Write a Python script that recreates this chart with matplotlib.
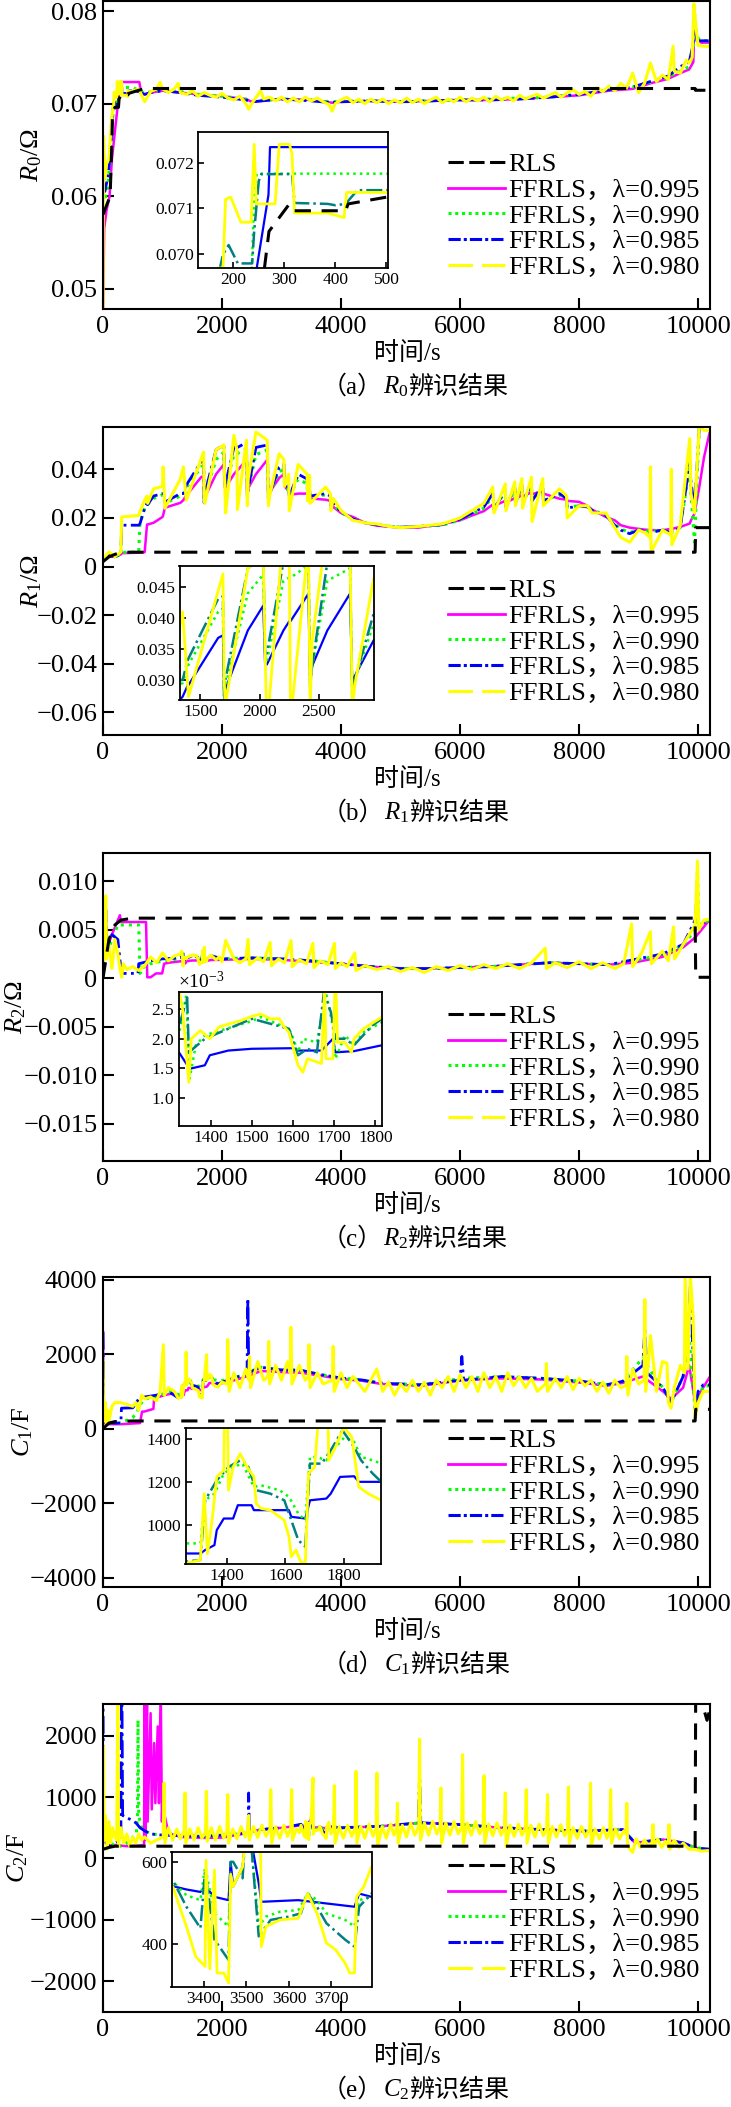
import numpy as np
import matplotlib
matplotlib.use('Agg')
import matplotlib.pyplot as plt
from matplotlib.lines import Line2D

plt.rcParams['font.family'] = ['Liberation Serif', 'Noto Sans CJK SC']
plt.rcParams['mathtext.fontset'] = 'custom'
plt.rcParams['mathtext.rm'] = 'Liberation Serif'
plt.rcParams['mathtext.it'] = 'Liberation Serif:italic'
plt.rcParams['mathtext.bf'] = 'Liberation Serif:bold'

W, H = 731, 2107

# ---------------- (a) R0 ----------------
a_rls_t = [0, 60, 120, 150, 160, 200, 260, 270, 310, 320, 420, 425, 700, 9950, 9955, 10190]
a_rls_v = [0.0580, 0.0590, 0.0600, 0.0660, 0.0690, 0.0696, 0.0696, 0.0705, 0.0711, 0.07095,
           0.07095, 0.0711, 0.07164, 0.07164, 0.07145, 0.07145]
a_995_t = [0, 20, 60, 110, 150, 200, 246, 269, 272, 610, 640, 700, 800, 1000, 1300, 1600, 2000,
           2400, 2500, 3000, 3500, 3850, 4000, 4500, 5000, 5500, 6000, 6500, 7000, 7500, 8000,
           8500, 8900, 9200, 9500, 9700, 9850, 9920, 9940, 9980, 10050, 10190]
a_995_v = [0.0470, 0.0565, 0.0585, 0.0600, 0.0640, 0.0670, 0.0697, 0.0713, 0.07234, 0.07234,
           0.0712, 0.0710, 0.0712, 0.0714, 0.0712, 0.0710, 0.0708, 0.0705, 0.0702, 0.0705,
           0.0704, 0.0701, 0.0702, 0.0703, 0.0702, 0.0703, 0.0704, 0.0704, 0.0705, 0.0707,
           0.0709, 0.0714, 0.0716, 0.0722, 0.0727, 0.0733, 0.0737, 0.0745, 0.0795, 0.0770,
           0.0766, 0.0766]
a_990_t = [0, 30, 80, 130, 170, 200, 236, 241, 246, 500, 600, 700, 800, 1000, 1300, 1600, 2000,
           2400, 2500, 3000, 3500, 3850, 4000, 4500, 5000, 5500, 6000, 6500, 7000, 7500, 8000,
           8500, 8900, 9200, 9500, 9700, 9850, 9920, 9940, 9980, 10050, 10190]
a_990_v = [0.0600, 0.0595, 0.0610, 0.0650, 0.0690, 0.0696, 0.0696, 0.0712, 0.07176, 0.07176,
           0.0714, 0.0711, 0.0713, 0.0715, 0.0713, 0.0710, 0.0708, 0.0705, 0.0703, 0.0705,
           0.0704, 0.0702, 0.0703, 0.0703, 0.0702, 0.0703, 0.0704, 0.0705, 0.0706, 0.0707,
           0.0710, 0.0715, 0.0718, 0.0723, 0.0729, 0.0735, 0.0740, 0.0760, 0.0797, 0.0772,
           0.0768, 0.0768]
a_985_t = [0, 30, 80, 130, 160, 180, 191, 200, 209, 237, 241, 250, 255, 315, 320, 385, 400, 420,
           443, 500, 600, 700, 800, 1000, 1300, 1600, 2000, 2400, 2500, 3000, 3500, 3850, 4000,
           4500, 5000, 5500, 6000, 6500, 7000, 7500, 8000, 8500, 8900, 9200, 9500, 9700, 9850,
           9920, 9940, 9980, 10050, 10190]
a_985_v = [0.0645, 0.0605, 0.0620, 0.0650, 0.0690, 0.0700, 0.0702, 0.0700, 0.0698, 0.0698,
           0.0705, 0.0716, 0.07175, 0.07175, 0.07112, 0.0711, 0.07107, 0.0711, 0.0714, 0.0714,
           0.0713, 0.0710, 0.0712, 0.0714, 0.0712, 0.0709, 0.0707, 0.0704, 0.0702, 0.0705,
           0.0703, 0.0701, 0.0702, 0.0703, 0.0702, 0.0703, 0.0704, 0.0704, 0.0705, 0.0707,
           0.0710, 0.0715, 0.0718, 0.0724, 0.0730, 0.0740, 0.0745, 0.0765, 0.0790, 0.0768,
           0.0768, 0.0768]
a_980_t = [0, 10, 30, 60, 100, 140, 170, 180, 185, 195,
           215, 235, 241, 245, 250, 282, 290, 310, 315, 320,
           385, 417, 422, 500, 600, 700, 800, 900, 960, 1000,
           1100, 1200, 1264, 1300, 1400, 1500, 1600, 1700, 1800, 1900,
           2000, 2100, 2200, 2300, 2400, 2450, 2500, 2650, 2700, 2800,
           2900, 3000, 3100, 3200, 3300, 3400, 3500, 3600, 3700, 3800,
           3850, 3900, 4000, 4100, 4200, 4300, 4400, 4500, 4600, 4700,
           4800, 4900, 5000, 5100, 5200, 5300, 5400, 5500, 5600, 5700,
           5800, 5900, 6000, 6100, 6200, 6300, 6400, 6500, 6600, 6700,
           6800, 6900, 7000, 7100, 7200, 7300, 7400, 7500, 7600, 7700,
           7800, 7900, 8000, 8100, 8200, 8300, 8400, 8500, 8600, 8700,
           8800, 8900, 9000, 9100, 9200, 9300, 9400, 9500, 9580, 9600,
           9700, 9800, 9850, 9900, 9930, 9960, 10000, 10100, 10190]
a_980_v = [0.0480, 0.0665, 0.0620, 0.0635, 0.0640, 0.0680, 0.0697, 0.0697, 0.0712, 0.07125,
           0.0707, 0.0707, 0.0724, 0.0711, 0.0711, 0.0711, 0.0724, 0.0724, 0.0722, 0.0709,
           0.0709, 0.0708, 0.07135, 0.07135, 0.0716, 0.0702, 0.0713, 0.0716, 0.0723, 0.0716,
           0.0712, 0.0716, 0.0722, 0.0712, 0.0710, 0.0714, 0.0708, 0.0712, 0.0709, 0.0707,
           0.0711, 0.0706, 0.0704, 0.0708, 0.0700, 0.0694, 0.0700, 0.0714, 0.0705, 0.0707,
           0.0703, 0.0707, 0.0702, 0.0706, 0.0702, 0.0707, 0.0703, 0.0706, 0.0702, 0.0699,
           0.0692, 0.0700, 0.0704, 0.0707, 0.0701, 0.0705, 0.0700, 0.0705, 0.0701, 0.0705,
           0.0700, 0.0704, 0.0701, 0.0706, 0.0701, 0.0705, 0.0700, 0.0704, 0.0707, 0.0701,
           0.0705, 0.0702, 0.0707, 0.0702, 0.0706, 0.0703, 0.0707, 0.0702, 0.0708, 0.0704,
           0.0707, 0.0703, 0.0709, 0.0705, 0.0708, 0.0710, 0.0706, 0.0709, 0.0712, 0.0707,
           0.0712, 0.0715, 0.0710, 0.0713, 0.0708, 0.0717, 0.0713, 0.0719, 0.0714, 0.0722,
           0.0717, 0.0733, 0.0712, 0.0722, 0.0744, 0.0724, 0.0731, 0.0726, 0.0762, 0.0735,
           0.0733, 0.0747, 0.0744, 0.0750, 0.0808, 0.0785, 0.0763, 0.0762, 0.0762]

# ---------------- (b) R1 ----------------
b_t = [0, 100, 200, 300, 314, 600, 620, 700, 740, 750,
       850, 1000, 1010, 1040, 1300, 1350, 1390, 1400, 1650, 1690,
       1700, 1710, 1900, 2030, 2045, 2060, 2200, 2250, 2260, 2410,
       2425, 2440, 2570, 2760, 2780, 2800, 2960, 3040, 3050, 3120,
       3130, 3280, 3430, 3440, 3470, 3480, 3740, 3820, 3830, 3870,
       4000, 4200, 4400, 4600, 4800, 5000, 5300, 5700, 6000, 6200,
       6400, 6550, 6570, 6760, 6770, 6920, 6930, 7040, 7050, 7200,
       7210, 7390, 7400, 7670, 7790, 7800, 8000, 8140, 8220, 8450,
       8600, 8700, 8850, 9000, 9100, 9190, 9200, 9210, 9400, 9540,
       9550, 9560, 9700, 9860, 9880, 9940, 10020, 10100, 10190]
b_995 = [0.003, 0.004, 0.004, 0.005, 0.0055, 0.0057, 0.0058, 0.0059, 0.0173, 0.0173,
         0.0180, 0.0204, 0.0210, 0.0242, 0.0262, 0.0273, 0.0290, 0.0292, 0.0368, 0.0372,
         0.0280, 0.0285, 0.0380, 0.0420, 0.0327, 0.0325, 0.0380, 0.0395, 0.0395, 0.0439,
         0.0289, 0.0322, 0.0380, 0.0439, 0.0295, 0.0306, 0.0364, 0.0380, 0.0330, 0.0310,
         0.0295, 0.0300, 0.0300, 0.0287, 0.0290, 0.0280, 0.0275, 0.0270, 0.0245, 0.0245,
         0.0220, 0.0204, 0.0180, 0.0168, 0.0164, 0.0160, 0.0160, 0.0175, 0.0190, 0.0210,
         0.0228, 0.0255, 0.0250, 0.0270, 0.0262, 0.0282, 0.0275, 0.0295, 0.0288, 0.0305,
         0.0298, 0.0310, 0.0300, 0.0279, 0.0275, 0.0270, 0.0266, 0.0250, 0.0234, 0.0204,
         0.0190, 0.0170, 0.0160, 0.0155, 0.0152, 0.0150, 0.0150, 0.0150, 0.0149, 0.0155,
         0.0155, 0.0155, 0.0163, 0.0177, 0.0190, 0.0218, 0.0327, 0.0450, 0.0547]
b_990 = [0.003, 0.005, 0.004, 0.005, 0.0058, 0.0060, 0.0179, 0.0240, 0.0255, 0.0255,
         0.0280, 0.0295, 0.0295, 0.0260, 0.0290, 0.0295, 0.0320, 0.0325, 0.0410, 0.0415,
         0.0270, 0.0290, 0.0440, 0.0470, 0.0340, 0.0330, 0.0460, 0.0465, 0.0465, 0.0485,
         0.0300, 0.0320, 0.0460, 0.0480, 0.0280, 0.0300, 0.0390, 0.0400, 0.0340, 0.0310,
         0.0290, 0.0360, 0.0340, 0.0290, 0.0310, 0.0285, 0.0295, 0.0285, 0.0250, 0.0255,
         0.0222, 0.0195, 0.0180, 0.0172, 0.0166, 0.0162, 0.0164, 0.0170, 0.0192, 0.0215,
         0.0240, 0.0290, 0.0240, 0.0305, 0.0250, 0.0315, 0.0262, 0.0325, 0.0265, 0.0330,
         0.0272, 0.0325, 0.0272, 0.0295, 0.0280, 0.0245, 0.0250, 0.0245, 0.0232, 0.0212,
         0.0175, 0.0155, 0.0140, 0.0150, 0.0148, 0.0145, 0.0145, 0.0145, 0.0150, 0.0145,
         0.0145, 0.0145, 0.0160, 0.0410, 0.0300, 0.0100, 0.0580, 0.0580, 0.0580]
b_985 = [0.003, 0.005, 0.004, 0.005, 0.0170, 0.0170, 0.0175, 0.0240, 0.0260, 0.0255,
         0.0290, 0.0300, 0.0300, 0.0265, 0.0300, 0.0300, 0.0330, 0.0335, 0.0431, 0.0435,
         0.0262, 0.0300, 0.0480, 0.0500, 0.0343, 0.0343, 0.0490, 0.0490, 0.0490, 0.0510,
         0.0289, 0.0320, 0.0490, 0.0500, 0.0265, 0.0300, 0.0407, 0.0420, 0.0350, 0.0320,
         0.0290, 0.0380, 0.0360, 0.0290, 0.0320, 0.0290, 0.0300, 0.0290, 0.0250, 0.0260,
         0.0225, 0.0195, 0.0180, 0.0172, 0.0165, 0.0162, 0.0165, 0.0172, 0.0195, 0.0220,
         0.0245, 0.0300, 0.0235, 0.0315, 0.0245, 0.0325, 0.0260, 0.0335, 0.0262, 0.0340,
         0.0270, 0.0335, 0.0270, 0.0300, 0.0280, 0.0240, 0.0250, 0.0245, 0.0230, 0.0210,
         0.0170, 0.0150, 0.0135, 0.0150, 0.0145, 0.0140, 0.0140, 0.0140, 0.0150, 0.0140,
         0.0140, 0.0140, 0.0160, 0.0430, 0.0350, 0.0240, 0.0570, 0.0580, 0.0580]
b_980 = [0.003, 0.006, 0.004, 0.006, 0.0204, 0.0210, 0.0225, 0.0273, 0.0290, 0.0260,
         0.0320, 0.0330, 0.0410, 0.0240, 0.0360, 0.0410, 0.0300, 0.0273, 0.0444, 0.0471,
         0.0300, 0.0260, 0.0480, 0.0500, 0.0350, 0.0220, 0.0540, 0.0480, 0.0234, 0.0520,
         0.0250, 0.0360, 0.0553, 0.0520, 0.0250, 0.0290, 0.0464, 0.0440, 0.0330, 0.0380,
         0.0230, 0.0420, 0.0380, 0.0270, 0.0375, 0.0260, 0.0327, 0.0300, 0.0230, 0.0280,
         0.0230, 0.0190, 0.0180, 0.0175, 0.0165, 0.0160, 0.0165, 0.0175, 0.0200, 0.0230,
         0.0260, 0.0327, 0.0220, 0.0340, 0.0230, 0.0348, 0.0250, 0.0362, 0.0240, 0.0368,
         0.0185, 0.0362, 0.0250, 0.0320, 0.0290, 0.0200, 0.0250, 0.0250, 0.0220, 0.0220,
         0.0160, 0.0120, 0.0100, 0.0150, 0.0140, 0.0120, 0.0410, 0.0060, 0.0150, 0.0130,
         0.0400, 0.0090, 0.0170, 0.0526, 0.0300, 0.0220, 0.0580, 0.0560, 0.0560]
b_rls_t = [0, 100, 200, 300, 350, 9950, 9960, 10190]
b_rls_v = [0.002, 0.004, 0.005, 0.0058, 0.0059, 0.0059, 0.0160, 0.0160]

# ---------------- (c) R2 (values in mOhm) ----------------
c_995_t = [0, 47, 60, 150, 284, 300, 338, 723, 744, 800, 892, 994, 1027, 1100, 1300, 1324, 1349,
           1386, 1398, 1443, 1500, 1601, 1612, 1669, 1697, 1703, 1748, 1816, 2000, 2500, 3000,
           3500, 4000, 4500, 5000, 5500, 6000, 6500, 7000, 7500, 8000, 8500, 8900, 9400, 9750,
           9950, 10190]
c_995_v = [0.1, 7.5, 3.0, 4.5, 6.5, 5.8, 5.8, 5.8, 0.1, 0.1, 0.5, 0.5, 1.5, 1.6, 1.75, 1.76, 1.49,
           1.55, 1.72, 1.80, 1.83, 1.84, 1.80, 1.80, 2.0, 1.77, 1.79, 1.89, 1.9, 2.0, 1.9, 1.7,
           1.5, 1.2, 1.0, 1.0, 1.1, 1.2, 1.4, 1.6, 1.5, 1.4, 1.6, 2.2, 3.2, 4.2, 6.0]
c_990_t = [0, 47, 60, 150, 250, 338, 600, 622, 640, 800, 1000, 1300, 1324, 1341, 1349, 1364, 1386,
           1500, 1522, 1590, 1601, 1612, 1624, 1658, 1680, 1697, 1703, 1726, 1748, 1771, 1816,
           2000, 2500, 3000, 3500, 4000, 4500, 5000, 5500, 6000, 6500, 7000, 7500, 8000, 8500,
           8900, 9400, 9750, 9950, 9990, 10010, 10190]
c_990_v = [0.5, 6.0, 2.5, 4.0, 5.5, 5.5, 5.5, 0.5, 1.0, 1.5, 1.8, 2.0, 2.11, 2.74, 1.32, 1.89, 2.06,
           2.3, 2.37, 2.17, 2.0, 1.77, 2.0, 1.94, 2.79, 2.2, 1.66, 2.06, 1.89, 2.11, 2.28, 2.0,
           2.1, 2.0, 1.8, 1.5, 1.2, 1.0, 1.0, 1.1, 1.2, 1.4, 1.6, 1.5, 1.4, 1.8, 2.4, 3.4, 5.0,
           11.0, 5.5, 6.0]
c_985_t = [0, 47, 60, 150, 250, 300, 338, 588, 600, 800, 1000, 1300, 1324, 1343, 1347, 1386, 1500,
           1590, 1612, 1635, 1658, 1675, 1692, 1703, 1726, 1748, 1793, 1816, 2000, 2500, 3000,
           3500, 4000, 4500, 5000, 5500, 6000, 6500, 7000, 7500, 8000, 8500, 8900, 9400, 9750,
           9950, 9980, 10010, 10190]
c_985_v = [0.3, 7.0, 3.0, 4.5, 4.0, 1.0, 0.5, 0.5, 1.5, 1.8, 2.0, 2.1, 2.23, 2.7, 1.77, 2.0, 2.34,
           2.17, 1.72, 1.83, 1.77, 2.79, 2.45, 2.0, 2.0, 1.89, 2.23, 2.34, 2.0, 2.1, 2.0, 1.8,
           1.5, 1.2, 1.0, 1.0, 1.1, 1.2, 1.4, 1.6, 1.5, 1.4, 1.9, 2.5, 3.5, 6.0, 8.0, 5.5, 6.0]
c_980_t = [0, 20, 47, 60, 100, 150, 200, 250, 284, 314,
           340, 400, 500, 600, 700, 800, 900, 1000, 1100, 1200,
           1300, 1324, 1332, 1347, 1353, 1375, 1398, 1420, 1443, 1470,
           1500, 1522, 1545, 1567, 1579, 1590, 1612, 1624, 1635, 1669,
           1677, 1680, 1697, 1703, 1708, 1726, 1742, 1748, 1771, 1816,
           1900, 1950, 2000, 2062, 2200, 2300, 2400, 2438, 2460, 2600,
           2700, 2807, 2830, 2950, 3050, 3160, 3180, 3300, 3420, 3528,
           3545, 3650, 3780, 3889, 3905, 4000, 4100, 4233, 4250, 4400,
           4600, 4800, 5000, 5200, 5400, 5600, 5800, 6000, 6200, 6400,
           6600, 6800, 7000, 7200, 7432, 7450, 7600, 7800, 8000, 8200,
           8400, 8600, 8750, 8883, 8900, 9050, 9197, 9215, 9400, 9500,
           9589, 9605, 9750, 9850, 9950, 9990, 10010, 10100, 10190]
c_980_v = [0.5, 4.0, 8.5, 2.0, 3.5, 1.0, 4.0, 2.5, 1.0, 0.1,
           1.5, 0.9, 1.2, 0.8, 1.3, 2.2, 1.6, 2.6, 1.8, 2.3,
           2.5, 2.8, 2.5, 1.26, 2.0, 2.14, 2.0, 2.2, 2.25, 2.3,
           2.38, 2.42, 2.34, 2.34, 2.2, 2.11, 1.55, 1.43, 1.66, 1.58,
           2.9, 1.66, 1.66, 3.2, 1.94, 1.94, 1.77, 2.0, 2.17, 2.37,
           1.9, 2.2, 1.7, 3.9, 2.0, 1.6, 2.0, 4.0, 1.4, 2.1,
           1.7, 3.7, 1.3, 2.0, 1.6, 3.9, 1.2, 1.9, 1.5, 3.6,
           1.1, 1.8, 1.4, 3.6, 1.0, 1.6, 1.2, 2.6, 0.8, 1.3,
           0.9, 1.2, 0.7, 1.1, 0.6, 1.2, 0.8, 1.3, 0.9, 1.4,
           1.0, 1.5, 1.0, 1.6, 3.1, 1.0, 1.6, 1.1, 1.7, 1.0,
           1.6, 1.0, 1.5, 5.6, 1.2, 2.6, 4.8, 1.5, 2.8, 1.8,
           5.3, 2.0, 3.5, 4.5, 5.5, 12.1, 5.0, 6.0, 6.1]
c_rls_t = [0, 100, 200, 300, 500, 9950, 9960, 10190]
c_rls_v = [0.0, 4.0, 5.5, 6.0, 6.2, 6.2, 0.1, 0.1]

# ---------------- (d) C1 ----------------
d_995_t = [0, 5, 15, 100, 300, 622, 656, 690, 847, 860, 960, 1043, 1200, 1261, 1309, 1325, 1357,
           1365, 1389, 1421, 1437, 1484, 1492, 1516, 1612, 1620, 1668, 1684, 1740, 1755, 1787,
           1835, 1851, 1928, 2100, 2312, 2500, 2650, 2988, 3326, 3664, 4002, 4340, 4678, 5354,
           6030, 6706, 7382, 8058, 8464, 8734, 9072, 9410, 9545, 9748, 9850, 9950, 10085, 10200]
d_995_v = [2600, 1700, 150, 120, 120, 150, 458, 458, 530, 862, 862, 907, 950, 868, 868, 884, 907,
           977, 1031, 1031, 1093, 1093, 1070, 1070, 1070, 1039, 1031, 1116, 1124, 1147, 1225,
           1228, 1202, 1202, 1250, 1350, 1450, 1550, 1520, 1500, 1420, 1330, 1290, 1200, 1150,
           1300, 1350, 1320, 1230, 1150, 1230, 1400, 1000, 800, 1100, 1700, 700, 1100, 1400]
d_990_t = [0, 5, 15, 100, 300, 500, 580, 600, 700, 900, 1100, 1261, 1309, 1325, 1357, 1389, 1421,
           1453, 1492, 1516, 1580, 1612, 1644, 1668, 1684, 1708, 1740, 1771, 1803, 1835, 1859,
           1899, 1928, 2100, 2312, 2500, 2650, 2988, 3326, 3664, 4002, 4340, 4678, 5354, 6030,
           6706, 7382, 8058, 8464, 8734, 9072, 9300, 9410, 9545, 9748, 9850, 9880, 9950, 10085,
           10200]
d_990_v = [2000, 1200, 200, 150, 150, 300, 450, 600, 800, 850, 1000, 915, 915, 1116, 1147, 1240,
           1271, 1287, 1178, 1186, 1163, 1132, 1054, 1023, 1318, 1318, 1302, 1364, 1411, 1388,
           1318, 1302, 1287, 1300, 1420, 1550, 1650, 1580, 1560, 1450, 1360, 1310, 1220, 1180,
           1350, 1400, 1350, 1270, 1180, 1270, 1900, 1300, 1100, 700, 1400, 2500, 1800, 500,
           1150, 1150]
d_985_t = [0, 5, 15, 100, 300, 310, 500, 520, 600, 700, 900, 1100, 1261, 1309, 1325, 1365, 1405,
           1445, 1469, 1500, 1548, 1596, 1620, 1644, 1668, 1684, 1724, 1755, 1795, 1835, 1859,
           1899, 1928, 2100, 2312, 2420, 2434, 2450, 2650, 2988, 3326, 3664, 4002, 4340, 4678,
           5354, 6000, 6030, 6060, 6706, 7382, 8058, 8464, 8734, 9072, 9105, 9140, 9410, 9545,
           9748, 9830, 9870, 9950, 10000, 10085, 10200]
d_985_v = [2600, 1800, 200, 150, 150, 550, 560, 600, 800, 850, 900, 1000, 830, 838, 1116, 1209,
           1271, 1302, 1287, 1163, 1147, 1116, 1023, 930, 899, 1287, 1287, 1349, 1442, 1364, 1302,
           1240, 1202, 1300, 1420, 1450, 3493, 1500, 1650, 1580, 1570, 1450, 1360, 1310, 1220,
           1180, 1300, 1940, 1300, 1400, 1350, 1270, 1180, 1270, 1700, 2700, 1500, 1100, 700,
           1400, 2300, 3870, 500, 1000, 1176, 1176]
d_980_t = [0, 5, 20, 40, 60, 80, 100, 150, 200, 300,
           400, 500, 550, 600, 650, 700, 800, 900, 960, 1014,
           1030, 1100, 1200, 1261, 1309, 1322, 1333, 1349, 1365, 1389,
           1397, 1405, 1421, 1445, 1469, 1492, 1500, 1516, 1548, 1596,
           1612, 1620, 1636, 1652, 1668, 1679, 1700, 1740, 1748, 1771,
           1800, 1827, 1851, 1883, 1928, 2000, 2085, 2096, 2120, 2200, 2300,
           2400, 2450, 2461, 2480, 2600, 2700, 2772, 2785, 2800, 2900, 3000, 3100,
           3145, 3157, 3175, 3300, 3400, 3450, 3461, 3480, 3600, 3700, 3855, 3867, 3885,
           4000, 4100, 4200, 4300, 4400, 4500, 4600, 4700, 4800, 4900,
           5000, 5100, 5200, 5300, 5400, 5500, 5600, 5700, 5800, 5900,
           6000, 6100, 6200, 6300, 6400, 6500, 6600, 6700, 6800, 6900,
           7000, 7100, 7200, 7300, 7437, 7450, 7470, 7600, 7700, 7800, 7900,
           8000, 8100, 8200, 8300, 8400, 8500, 8600, 8700, 8790, 8802, 8820,
           8900, 9000, 9093, 9105, 9120, 9200, 9300, 9400, 9477, 9500, 9545,
           9600, 9700, 9770, 9782, 9830, 9870, 9917, 9950, 10000, 10085, 10200]
d_980_v = [1800, 1000, 200, 700, 100, 500, 200, 600, 700, 700,
           650, 600, 700, 500, 900, 800, 850, 750, 1000, 2254,
           900, 1100, 1000, 822, 838, 1147, 868, 1023, 1225, 1256,
           2056, 1163, 1271, 1333, 1271, 1225, 1101, 1078, 1070, 1023,
           946, 853, 884, 830, 822, 1240, 1271, 1985, 1302, 1364,
           1457, 1411, 1178, 1147, 1116, 1250, 1200, 2390, 1000, 1500, 1100,
           1600, 1300, 1940, 1100, 1800, 1300, 1400, 2344, 1200, 1700, 1300, 1800,
           1500, 2721, 1200, 1700, 1300, 1400, 2254, 1100, 1500, 1200, 1300, 2209, 1000,
           1500, 1100, 1400, 1200, 1000, 1300, 1600, 1000, 1250, 900,
           1200, 1000, 1300, 1000, 1250, 900, 1300, 1100, 1400, 1000,
           1450, 1100, 1400, 1000, 1500, 1100, 1400, 1000, 1500, 1150,
           1400, 1100, 1350, 1000, 1200, 1750, 1000, 1350, 1100, 1400, 1050,
           1350, 1150, 1300, 1000, 1250, 950, 1300, 1100, 1150, 1940, 900,
           1600, 1200, 1300, 3466, 1000, 2500, 1000, 1800, 1760, 700, 548,
           1100, 1700, 1500, 4100, 1600, 4100, 3000, 300, 700, 1000, 1000]
d_rls_t = [0, 100, 200, 487, 9950, 9960, 10200]
d_rls_v = [0, 150, 190, 207, 207, 520, 520]

# ---------------- (e) C2 ----------------
e_995_t = [0, 50, 100, 200, 400, 600, 690, 700, 712, 740, 750, 800, 820, 860, 880, 920, 940, 970,
           990, 1000, 1014, 1100, 1300, 1700, 2000, 2300, 2650, 3000, 3327, 3359, 3392, 3403,
           3425, 3458, 3463, 3469, 3491, 3496, 3510, 3529, 3535, 3622, 3688, 3754, 3765, 3794,
           4000, 4678, 5354, 6030, 6706, 7382, 8058, 8734, 8937, 9410, 9748, 9950, 10190]
e_995_v = [300, 250, 200, 220, 200, 210, 220, 2800, 300, 2700, 600, 2366, 800, 1879, 900, 2150,
           900, 2800, 600, 1012, 796, 417, 350, 335, 340, 390, 471, 498, 541, 533, 527, 540, 515,
           507, 600, 540, 588, 640, 660, 548, 503, 507, 499, 491, 523, 515, 498, 525, 579, 552,
           498, 471, 444, 471, 254, 309, 254, 173, 146]
e_990_t = [0, 50, 100, 200, 300, 400, 560, 580, 588, 600, 650, 700, 800, 1000, 1300, 1700, 2000,
           2300, 2650, 3000, 3327, 3359, 3392, 3403, 3425, 3458, 3463, 3469, 3491, 3496, 3510,
           3529, 3546, 3579, 3622, 3644, 3666, 3688, 3732, 3754, 3765, 3794, 4000, 4678, 5354,
           6030, 6706, 7382, 8058, 8734, 8937, 9410, 9748, 9950, 10190]
e_990_v = [400, 300, 200, 250, 200, 250, 400, 700, 2257, 700, 500, 450, 400, 380, 370, 360, 380,
           400, 470, 500, 552, 519, 507, 588, 475, 443, 570, 540, 588, 640, 660, 443, 467, 479,
           483, 523, 507, 475, 459, 443, 507, 515, 500, 525, 580, 550, 500, 470, 445, 470, 260,
           310, 255, 175, 150]
e_985_t = [0, 10, 20, 60, 100, 200, 300, 310, 318, 330, 351, 450, 554, 622, 700, 800, 1000, 1300,
           1700, 2000, 2300, 2440, 2447, 2460, 2650, 3000, 3327, 3359, 3392, 3403, 3425, 3458,
           3463, 3469, 3491, 3496, 3510, 3529, 3557, 3600, 3628, 3644, 3666, 3688, 3732, 3754,
           3765, 3794, 4000, 4678, 5300, 5320, 5340, 5354, 6030, 6706, 7382, 8058, 8734, 8937,
           9410, 9748, 9950, 10190]
e_985_v = [2800, 500, 300, 250, 200, 250, 300, 2800, 2800, 700, 690, 640, 580, 500, 450, 400, 380,
           370, 360, 380, 400, 450, 1067, 450, 470, 500, 556, 491, 439, 580, 411, 362, 600, 600,
           560, 640, 660, 419, 459, 467, 475, 523, 491, 451, 411, 394, 491, 523, 500, 525, 580,
           1400, 580, 580, 550, 500, 470, 445, 470, 260, 310, 255, 175, 150]
e_980_t = [0, 8, 20, 40, 70, 100, 130, 160, 200, 230,
           250, 260, 300, 350, 400, 450, 500, 550, 600, 650,
           700, 800, 900, 1012, 1027, 1040, 1100, 1170, 1240, 1300,
           1365, 1379, 1392, 1460, 1530, 1600, 1660, 1722, 1737, 1750,
           1820, 1890, 1960, 2030, 2082, 2096, 2110, 2180, 2250, 2320,
           2390, 2433, 2447, 2460, 2530, 2600, 2670, 2740, 2805, 2819,
           2835, 2900, 2970, 3040, 3100, 3155, 3170, 3185, 3250, 3300,
           3327, 3359, 3381, 3403, 3405, 3414, 3425, 3431, 3447, 3458,
           3463, 3469, 3491, 3496, 3510, 3529, 3535, 3546, 3579, 3622,
           3644, 3666, 3688, 3710, 3732, 3743, 3754, 3759, 3776, 3794,
           3830, 3873, 3887, 3900, 3970, 4040, 4110, 4180, 4238, 4252,
           4265, 4330, 4400, 4470, 4540, 4590, 4603, 4615, 4690, 4760,
           4830, 4890, 4935, 4948, 4960, 5030, 5100, 5170, 5240, 5305,
           5320, 5335, 5400, 5470, 5540, 5610, 5664, 5678, 5690, 5760,
           5830, 5900, 5970, 6028, 6043, 6055, 6120, 6190, 6260, 6330,
           6388, 6402, 6415, 6480, 6550, 6620, 6690, 6746, 6760, 6775,
           6840, 6910, 6980, 7040, 7098, 7112, 7125, 7190, 7260, 7330,
           7400, 7456, 7470, 7485, 7550, 7620, 7690, 7760, 7807, 7821,
           7835, 7900, 7970, 8040, 8110, 8178, 8193, 8205, 8270, 8340,
           8410, 8470, 8517, 8531, 8545, 8610, 8680, 8750, 8788, 8802,
           8815, 8900, 8960, 9030, 9100, 9170, 9227, 9241, 9255, 9320,
           9390, 9450, 9497, 9511, 9525, 9600, 9680, 9750, 9850, 9950,
           10050, 10190]
e_980_v = [200, 1824, 300, 700, 150, 600, 250, 500, 350, 300,
           2800, 200, 500, 250, 400, 200, 350, 250, 400, 300,
           350, 250, 300, 350, 1229, 250, 500, 300, 480, 320,
           450, 1067, 250, 480, 300, 500, 330, 420, 1094, 280,
           500, 300, 520, 330, 450, 1040, 250, 480, 320, 520,
           350, 480, 700, 300, 520, 340, 540, 360, 480, 1121,
           250, 520, 330, 540, 360, 480, 1121, 300, 480, 420,
           540, 443, 370, 346, 604, 340, 580, 330, 330, 306,
           570, 540, 588, 640, 900, 1310, 394, 443, 459, 463,
           523, 475, 403, 386, 354, 330, 330, 515, 540, 588,
           400, 480, 1186, 250, 520, 330, 540, 360, 500, 1418,
           250, 520, 330, 560, 360, 500, 1391, 200, 520, 330,
           560, 380, 500, 900, 250, 540, 350, 580, 380, 520,
           1944, 300, 580, 380, 600, 400, 520, 1148, 250, 580,
           380, 600, 400, 520, 1689, 250, 580, 380, 600, 400,
           520, 1348, 250, 560, 370, 580, 380, 500, 1067, 200,
           540, 360, 560, 380, 500, 1121, 250, 540, 350, 560,
           370, 500, 1040, 250, 520, 350, 550, 370, 480, 1164,
           250, 500, 330, 520, 350, 480, 1229, 200, 480, 320,
           500, 330, 460, 1121, 250, 480, 320, 450, 400, 900,
           200, 100, 320, 180, 300, 200, 260, 552, 200, 320,
           180, 280, 200, 552, 150, 300, 180, 250, 150, 150,
           120, 130]
e_rls_t = [0, 100, 200, 825, 9950, 9960, 10060, 10150, 10190]
e_rls_v = [150, 180, 200, 200, 200, 2800, 2550, 2250, 2400]

legend_labels = ['RLS', 'FFRLS，λ=0.995', 'FFRLS，λ=0.990', 'FFRLS，λ=0.985', 'FFRLS，λ=0.980']

main_styles = [dict(color='#FF00FF', ls='-', lw=1.8),
               dict(color='#00FF00', ls=':', lw=2.2),
               dict(color='#0000FF', ls='-.', lw=2.0),
               dict(color='#FFFF00', ls='-', lw=2.2)]
inset_styles = [dict(color='#0000FF', ls='-', lw=1.6),
                dict(color='#00FF00', ls=':', lw=1.8),
                dict(color='#008080', ls='-.', lw=1.8),
                dict(color='#FFFF00', ls='-', lw=2.0)]
rls_style = dict(color='k', lw=2.2, dashes=(5.3, 3.5))

handles = [Line2D([], [], color='k', lw=2.2, dashes=(5, 1.8)),
           Line2D([], [], color='#FF00FF', lw=2.0),
           Line2D([], [], color='#00FF00', lw=2.2, dashes=(1, 1.2)),
           Line2D([], [], color='#0000FF', lw=2.2, dashes=(4, 1, 1, 1)),
           Line2D([], [], color='#FFFF00', lw=2.2, dashes=(8, 3))]

fig = plt.figure(figsize=(W / 100, H / 100), dpi=100)


def panel(top, bottom, series, rls, ylim, yticks, ylabels, ylab, ylab_x,
          ibox, ixlim, iylim, ixticks, iyticks, iylabels, letter, sym):
    ax = fig.add_axes([103 / W, 1 - bottom / H, 607 / W, (bottom - top) / H])
    for (t, v), st in zip(series, main_styles):
        ax.plot(t, v, **st)
    ax.plot(rls[0], rls[1], **rls_style)
    ax.set_xlim(0, 10200)
    ax.set_ylim(ylim)
    ax.set_xticks([0, 2000, 4000, 6000, 8000, 10000])
    ax.set_yticks(yticks, ylabels)
    ax.tick_params(direction='in', length=8, width=1.5, labelsize=19)
    ax.tick_params(axis='x', pad=5)
    ax.tick_params(axis='y', pad=4)
    for s in ax.spines.values():
        s.set_linewidth(1.5)
    ax.set_ylabel(ylab, fontsize=19)
    ax.yaxis.set_label_coords(ylab_x, 0.5)
    ax.legend(handles, legend_labels, loc='upper left',
              bbox_to_anchor=(448 / W, 1 - (top + 152) / H), bbox_transform=fig.transFigure,
              frameon=False, fontsize=19, handlelength=2.15, handletextpad=0.15,
              labelspacing=0.08, borderpad=0, borderaxespad=0)

    # inset
    ia = fig.add_axes([ibox[0] / W, 1 - ibox[3] / H, (ibox[1] - ibox[0]) / W,
                       (ibox[3] - ibox[2]) / H])
    for (t, v), st in zip(series, inset_styles):
        ia.plot(t, v, **st)
    ia.plot(rls[0], rls[1], **rls_style)
    ia.set_xlim(ixlim)
    ia.set_ylim(iylim)
    ia.set_xticks(ixticks, [str(x) for x in ixticks])
    if iylabels is None:
        ia.set_yticks(iyticks)
        ia.ticklabel_format(axis='y', style='sci', scilimits=(0, 0), useMathText=True)
        ia.yaxis.get_offset_text().set_fontsize(14)
    else:
        ia.set_yticks(iyticks, iylabels)
    ia.tick_params(direction='in', length=4, width=1.2, labelsize=12.5, pad=3)
    for s in ia.spines.values():
        s.set_linewidth(1.3)

    # x label and caption
    fig.text(407 / W, 1 - (bottom + 45) / H, '时间/s', ha='center', va='center', fontsize=18)
    t1 = ax.annotate('（%s）' % letter, xy=(322, H - (bottom + 78)), xycoords='figure pixels',
                     ha='left', va='center', fontsize=18, annotation_clip=False)
    t2 = ax.annotate(sym, xy=(1, 0), xycoords=t1, ha='left', va='bottom', fontsize=18,
                     annotation_clip=False)
    ax.annotate('辨识结果', xy=(1, 0), xycoords=t2, ha='left', va='bottom', fontsize=18,
                annotation_clip=False)
    return ax, ia


panel(1, 309,
      [(a_995_t, a_995_v), (a_990_t, a_990_v), (a_985_t, a_985_v), (a_980_t, a_980_v)],
      (a_rls_t, a_rls_v), (0.0478, 0.0811), [0.05, 0.06, 0.07, 0.08],
      ['0.05', '0.06', '0.07', '0.08'], r'$R_0/\Omega$', -0.097,
      (198, 388, 132, 268), (131, 503), (0.0697, 0.07267), [200, 300, 400, 500],
      [0.070, 0.071, 0.072], ['0.070', '0.071', '0.072'], 'a', r'$R_0$')

panel(427, 735,
      [(b_t, b_995), (b_t, b_990), (b_t, b_985), (b_t, b_980)],
      (b_rls_t, b_rls_v), (-0.0693, 0.0574), [-0.06, -0.04, -0.02, 0, 0.02, 0.04],
      ['−0.06', '−0.04', '−0.02', '0', '0.02', '0.04'], r'$R_1/\Omega$', -0.097,
      (179.5, 374, 566, 700), (1324, 2963), (0.02678, 0.04838), [1500, 2000, 2500],
      [0.030, 0.035, 0.040, 0.045], ['0.030', '0.035', '0.040', '0.045'], 'b', r'$R_1$')

mohm = 1e-3
panel(853, 1161,
      [(c_995_t, np.array(c_995_v) * mohm), (c_990_t, np.array(c_990_v) * mohm),
       (c_985_t, np.array(c_985_v) * mohm), (c_980_t, np.array(c_980_v) * mohm)],
      (c_rls_t, np.array(c_rls_v) * mohm), (-0.01885, 0.01292),
      [-0.015, -0.010, -0.005, 0, 0.005, 0.010],
      ['−0.015', '−0.010', '−0.005', '0', '0.005', '0.010'], r'$R_2/\Omega$', -0.1235,
      (178.5, 382, 992, 1126), (1322, 1816), (0.519e-3, 2.794e-3),
      [1400, 1500, 1600, 1700, 1800], [1.0e-3, 1.5e-3, 2.0e-3, 2.5e-3], None, 'c', r'$R_2$')

panel(1277, 1587,
      [(d_995_t, d_995_v), (d_990_t, d_990_v), (d_985_t, d_985_v), (d_980_t, d_980_v)],
      (d_rls_t, d_rls_v), (-4251, 4072), [-4000, -2000, 0, 2000, 4000],
      ['−4000', '−2000', '0', '2000', '4000'], r'$C_1/\mathrm{F}$', -0.112,
      (185.5, 381, 1428, 1564), (1258, 1927), (819, 1453), [1400, 1600, 1800],
      [1000, 1200, 1400], ['1000', '1200', '1400'], 'd', r'$C_1$')

panel(1704, 2012,
      [(e_995_t, e_995_v), (e_990_t, e_990_v), (e_985_t, e_985_v), (e_980_t, e_980_v)],
      (e_rls_t, e_rls_v), (-2499, 2515), [-2000, -1000, 0, 1000, 2000],
      ['−2000', '−1000', '0', '1000', '2000'], r'$C_2/\mathrm{F}$', -0.120,
      (171.5, 371.5, 1852, 1987), (3324, 3794), (296, 624), [3400, 3500, 3600, 3700],
      [400, 600], ['400', '600'], 'e', r'$C_2$')

fig.savefig('out.png', dpi=100)
